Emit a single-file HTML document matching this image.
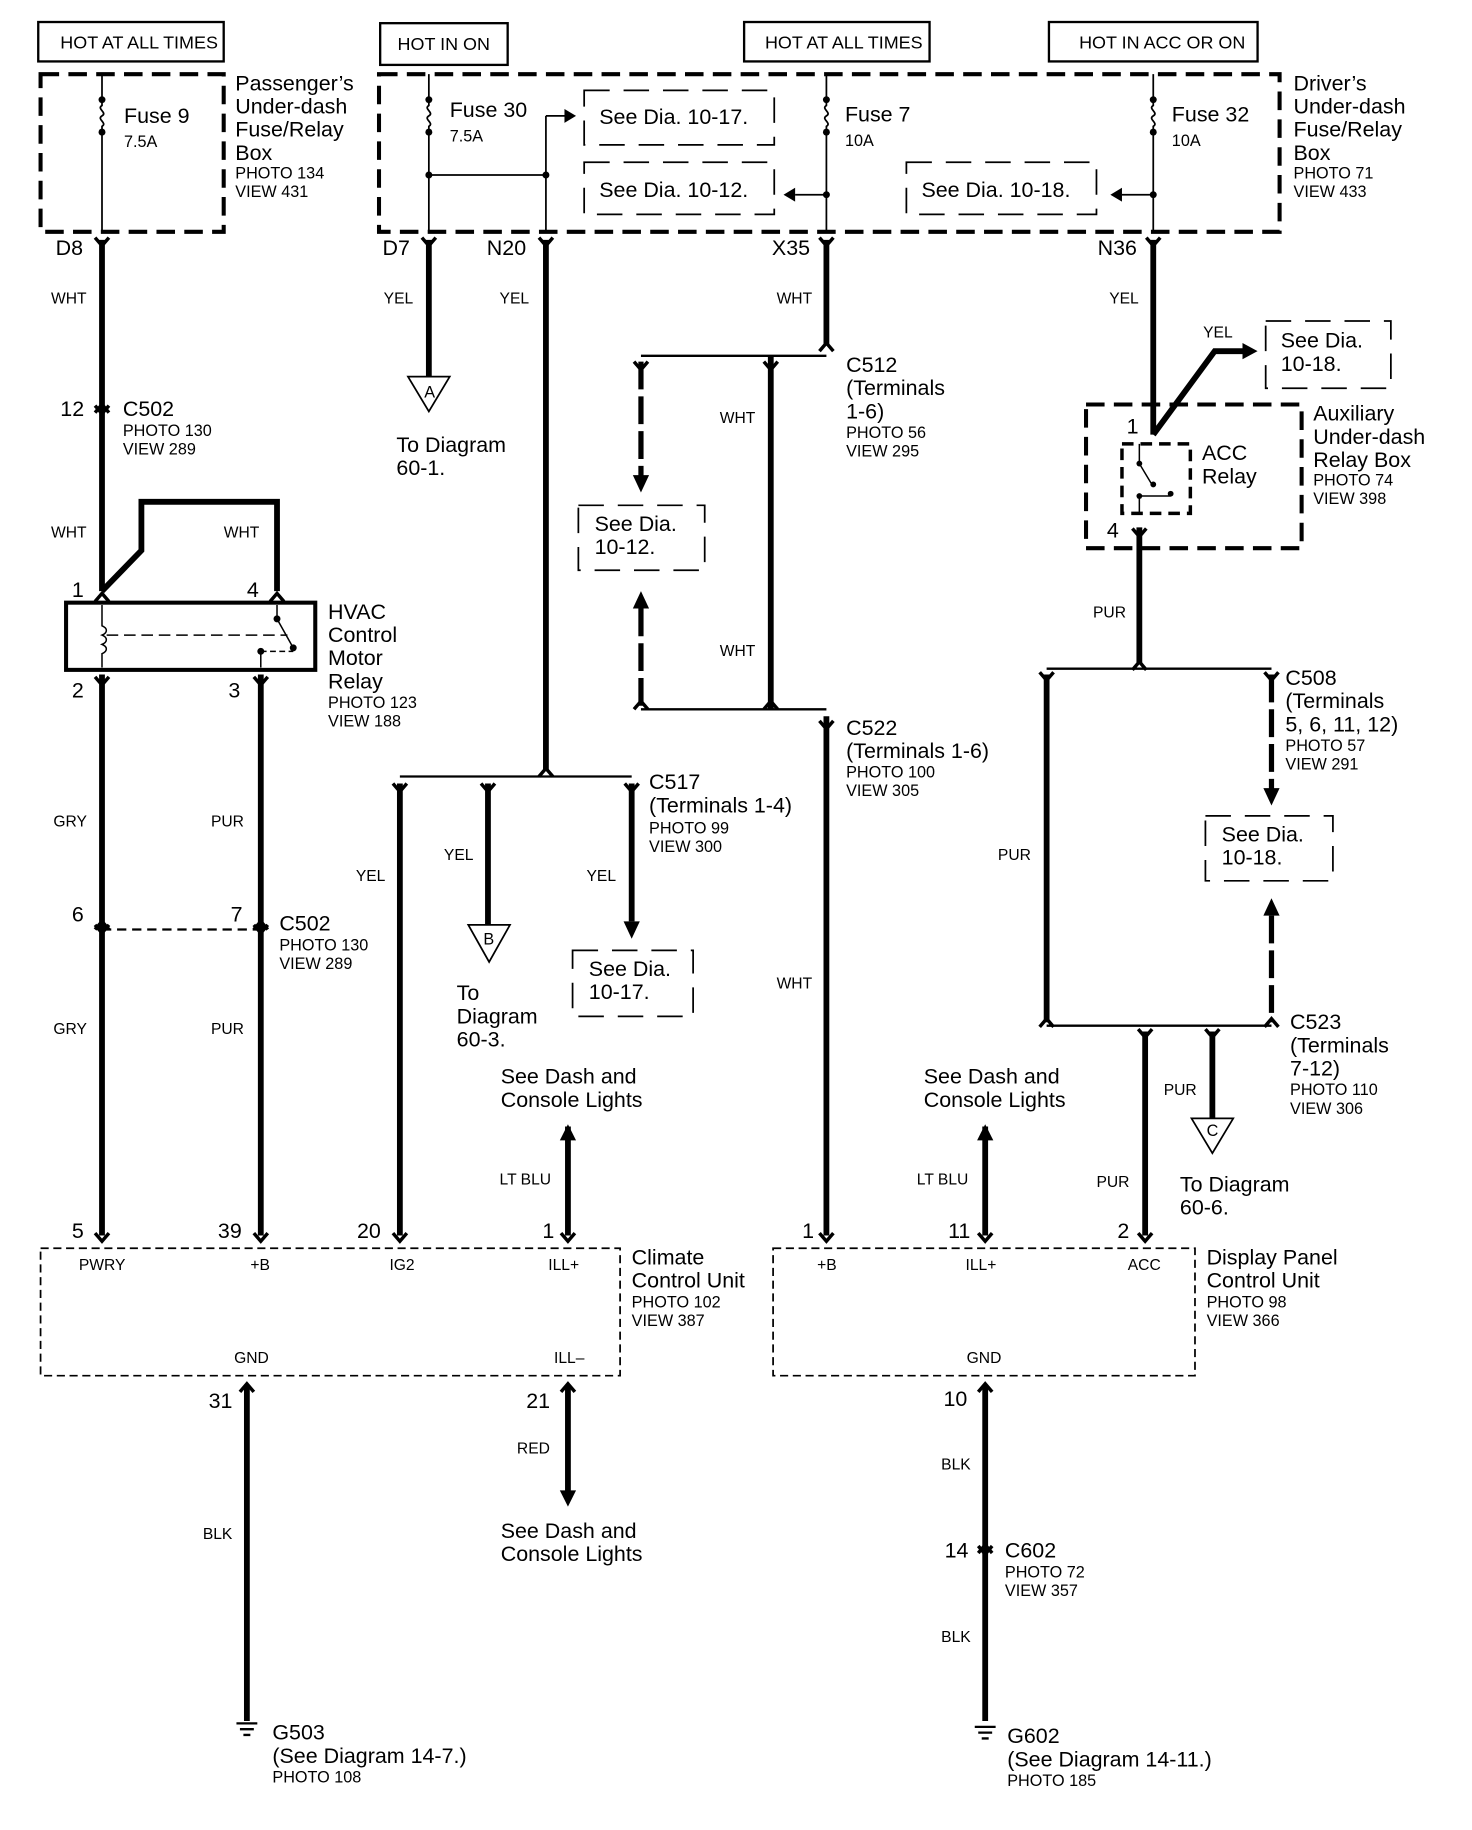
<!DOCTYPE html>
<html><head><meta charset="utf-8"><style>
html,body{margin:0;padding:0;background:#fff;}
svg{display:block;}
text{font-family:"Liberation Sans",Arial,sans-serif;fill:#000;}
.b{font-size:18.5px;}
.s{font-size:14px;}
.w{font-size:13.5px;}
.t{font-size:15.5px;}
</style></head><body>
<svg width="1472" height="1830" viewBox="0 0 1270 1579" preserveAspectRatio="none" xmlns="http://www.w3.org/2000/svg">
<defs>
<path id="fk" d="M-6,-6 L0,1 L6,-6" fill="none" stroke="#000" stroke-width="3"/>
<path id="up" d="M-6,6 L0,-1 L6,6" fill="none" stroke="#000" stroke-width="3"/>
<path id="fuse" d="M0,0 v6 c-5,3 5,6 0,9 c-5,3 5,6 0,9 v6" fill="none" stroke="#000" stroke-width="1.5"/>
</defs>
<rect width="1270" height="1579" fill="#fff"/>
<g fill="none" stroke="#000" stroke-width="2">
<rect x="33" y="19" width="160" height="34"/>
<rect x="328" y="20" width="110" height="36"/>
<rect x="642" y="19" width="160" height="34"/>
<rect x="905" y="19" width="180" height="34"/>
</g>
<g class="t">
<text x="52" y="42">HOT AT ALL TIMES</text>
<text x="343" y="43">HOT IN ON</text>
<text x="660" y="42">HOT AT ALL TIMES</text>
<text x="931" y="42">HOT IN ACC OR ON</text>
</g>
<g fill="none" stroke="#000" stroke-width="3.5" stroke-dasharray="16,8">
<rect x="35" y="64" width="158" height="136"/>
<rect x="327" y="64" width="777" height="136"/>
<rect x="937" y="349" width="186" height="124"/>
<rect x="968" y="383" width="59" height="60" stroke-width="3" stroke-dasharray="10,6"/>
</g>
<g fill="none" stroke="#000" stroke-width="1.5" stroke-dasharray="22,12">
<rect x="504" y="78" width="164" height="47"/>
<rect x="504" y="140" width="164" height="45"/>
<rect x="782" y="140" width="164" height="45"/>
<rect x="1092" y="277" width="108" height="58"/>
<rect x="499" y="436" width="109" height="56"/>
<rect x="494" y="820" width="104" height="57"/>
<rect x="1040" y="704" width="110" height="56"/>
<rect x="35" y="1077" width="500" height="110" stroke-dasharray="7,4"/>
<rect x="667" y="1077" width="364" height="110" stroke-dasharray="7,4"/>
</g>
<g fill="none" stroke="#000" stroke-width="1.5">
<path d="M88,64 V85 M88,115 V200"/>
<path d="M370,64 V85 M370,115 V200"/>
<path d="M370,151 H471 M471,100 V200 M471,100 H488"/>
<path d="M713,64 V85 M713,115 V200 M713,168 H686"/>
<path d="M995,64 V85 M995,115 V200 M995,168 H968"/>
</g>
<use href="#fuse" x="88" y="85"/><use href="#fuse" x="370" y="85"/><use href="#fuse" x="713" y="85"/><use href="#fuse" x="995" y="85"/>
<g fill="#000">
<circle cx="88" cy="86" r="3"/><circle cx="88" cy="114" r="3"/>
<circle cx="370" cy="86" r="3"/><circle cx="370" cy="114" r="3"/>
<circle cx="713" cy="86" r="3"/><circle cx="713" cy="114" r="3"/>
<circle cx="995" cy="86" r="3"/><circle cx="995" cy="114" r="3"/>
<circle cx="370" cy="151" r="3"/><circle cx="471" cy="151" r="3"/>
<circle cx="713" cy="168" r="3"/><circle cx="995" cy="168" r="3"/>
<path d="M487,94 L497,100 L487,106Z"/>
<path d="M686,162 L676,168 L686,174Z"/>
<path d="M968,162 L958,168 L968,174Z"/>
</g>
<g class="b">
<text x="107" y="106">Fuse 9</text>
<text x="388" y="101">Fuse 30</text>
<text x="729" y="105">Fuse 7</text>
<text x="1011" y="105">Fuse 32</text>
<text x="517" y="107">See Dia. 10-17.</text>
<text x="517" y="170">See Dia. 10-12.</text>
<text x="795" y="170">See Dia. 10-18.</text>
</g>
<g class="s">
<text x="107" y="127">7.5A</text><text x="388" y="122">7.5A</text>
<text x="729" y="126">10A</text><text x="1011" y="126">10A</text>
</g>
<g class="b">
<text x="203" y="78">Passenger’s</text><text x="203" y="98">Under-dash</text><text x="203" y="118">Fuse/Relay</text><text x="203" y="138">Box</text>
<text x="1116" y="78">Driver’s</text><text x="1116" y="98">Under-dash</text><text x="1116" y="118">Fuse/Relay</text><text x="1116" y="138">Box</text>
</g>
<g class="s">
<text x="203" y="154">PHOTO 134</text><text x="203" y="170">VIEW 431</text>
<text x="1116" y="154">PHOTO 71</text><text x="1116" y="170">VIEW 433</text>
</g>
<g class="b">
<text x="48" y="220">D8</text><text x="330" y="220">D7</text><text x="420" y="220">N20</text><text x="666" y="220">X35</text><text x="947" y="220">N36</text>
</g>
<g fill="none" stroke="#000" stroke-width="5">
<path d="M88,207 V510"/>
<path d="M88,510 L122,475 V433 H239 V510"/>
<path d="M88,582 V1066 M225,582 V1066"/>
<path d="M370,207 V325"/>
<path d="M471,207 V664"/>
<path d="M713,207 V298"/>
<path d="M995,207 V375 M995,375 L1048,303 H1072"/>
<path d="M665,307 V612 M713,618 V1066"/>
<path d="M345,676 V1066 M421,676 V798 M545,676 V795"/>
<path d="M983,455 V572"/>
<path d="M903,582 V882 M988,890 V1066 M1046,890 V965"/>
<path d="M490,972 V1066 M850,972 V1066"/>
<path d="M213,1195 V1485 M490,1195 V1290 M850,1195 V1485"/>
</g>
<g fill="none" stroke="#000" stroke-width="4.5" stroke-dasharray="24,6">
<path d="M553,312 V412 M553,525 V610"/>
<path d="M1097,582 V682 M1097,790 V882"/>
</g>
<g fill="none" stroke="#000" stroke-width="2">
<path d="M553,307 H713 M553,612 H713 M345,670 H545 M903,577 H1097 M903,885 H1097"/>
<path d="M88,802 H225" stroke-dasharray="8,5"/>
</g>
<g fill="#000">
<path d="M1072,296 L1085,303 L1072,310Z"/>
<path d="M546,410 L553,425 L560,410Z"/>
<path d="M546,525 L553,510 L560,525Z"/>
<path d="M538,795 L545,810 L552,795Z"/>
<path d="M1090,680 L1097,695 L1104,680Z"/>
<path d="M1090,790 L1097,775 L1104,790Z"/>
<path d="M483,1286 L490,1300 L497,1286Z"/>
<path d="M483,984 L490,970 L497,984Z"/>
<path d="M843,984 L850,970 L857,984Z"/>
</g>
<use href="#fk" x="88" y="211"/><use href="#fk" x="370" y="211"/><use href="#fk" x="471" y="211"/><use href="#fk" x="713" y="211"/><use href="#fk" x="995" y="211"/>
<use href="#fk" x="88" y="356"/><use href="#up" x="88" y="350"/>
<use href="#up" x="88" y="513"/><use href="#up" x="239" y="513"/>
<use href="#fk" x="88" y="590"/><use href="#fk" x="225" y="590"/>
<use href="#up" x="88" y="796"/><use href="#fk" x="88" y="804"/><use href="#up" x="225" y="796"/><use href="#fk" x="225" y="804"/>
<use href="#up" x="471" y="664"/><use href="#fk" x="345" y="682"/><use href="#fk" x="421" y="682"/><use href="#fk" x="545" y="682"/>
<use href="#up" x="713" y="297"/><use href="#fk" x="553" y="318"/><use href="#fk" x="665" y="318"/>
<use href="#up" x="553" y="606"/><use href="#up" x="665" y="606"/><use href="#fk" x="713" y="628"/>
<use href="#fk" x="983" y="462"/><use href="#up" x="983" y="572"/><use href="#fk" x="903" y="586"/><use href="#fk" x="1097" y="586"/>
<use href="#up" x="903" y="880"/><use href="#up" x="1097" y="880"/><use href="#fk" x="988" y="894"/><use href="#fk" x="1046" y="894"/>
<use href="#fk" x="88" y="1070"/><use href="#fk" x="225" y="1070"/><use href="#fk" x="345" y="1070"/><use href="#fk" x="490" y="1070"/>
<use href="#fk" x="713" y="1070"/><use href="#fk" x="850" y="1070"/><use href="#fk" x="988" y="1070"/>
<use href="#up" x="213" y="1195"/><use href="#up" x="490" y="1195"/><use href="#up" x="850" y="1195"/>
<use href="#fk" x="850" y="1340"/><use href="#up" x="850" y="1334"/>
<rect x="57" y="520" width="215" height="58" fill="none" stroke="#000" stroke-width="3.5"/>
<g fill="none" stroke="#000" stroke-width="1.3">
<path d="M88,522 V540 c5,2 5,6 0,8 c5,2 5,6 0,8 c5,2 5,6 0,8 V576"/>
<path d="M92,548 H248" stroke-dasharray="10,5"/>
<path d="M239,522 V534 L253,559 M225,576 V562" />
<path d="M225,562 H253" stroke-dasharray="5,3"/>
</g>
<g fill="#000"><circle cx="239" cy="534" r="3"/><circle cx="253" cy="559" r="3"/><circle cx="225" cy="562" r="3"/></g>
<g fill="none" stroke="#000" stroke-width="1.3">
<path d="M983,383 V400 L995,420 M983,443 V428 H1010" />
</g>
<g fill="#000"><circle cx="983" cy="400" r="2.5"/><circle cx="995" cy="418" r="2.5"/><circle cx="983" cy="428" r="2.5"/><circle cx="1010" cy="426" r="2.5"/></g>
<g fill="#fff" stroke="#000" stroke-width="1.5">
<path d="M352,325 H388 L370,355Z"/>
<path d="M404,798 H440 L422,830Z"/>
<path d="M1028,965 H1064 L1046,995Z"/>
</g>
<g class="s"><text x="366" y="343">A</text><text x="417" y="815">B</text><text x="1041" y="980">C</text></g>
<g stroke="#000" stroke-width="2"><path d="M204,1487 H222 M207,1492 H219 M210,1497 H216"/><path d="M841,1490 H859 M844,1495 H856 M847,1500 H853"/></g>
<g class="w">
<text x="44" y="262">WHT</text><text x="331" y="262">YEL</text><text x="431" y="262">YEL</text><text x="670" y="262">WHT</text><text x="957" y="262">YEL</text>
<text x="1038" y="291">YEL</text>
<text x="44" y="464">WHT</text><text x="193" y="464">WHT</text>
<text x="621" y="365">WHT</text><text x="621" y="566">WHT</text>
<text x="943" y="533">PUR</text>
<text x="46" y="713">GRY</text><text x="182" y="713">PUR</text>
<text x="861" y="742">PUR</text>
<text x="307" y="760">YEL</text><text x="383" y="742">YEL</text><text x="506" y="760">YEL</text>
<text x="670" y="853">WHT</text>
<text x="46" y="892">GRY</text><text x="182" y="892">PUR</text>
<text x="1004" y="945">PUR</text>
<text x="431" y="1022">LT BLU</text><text x="791" y="1022">LT BLU</text><text x="946" y="1024">PUR</text>
<text x="68" y="1096">PWRY</text><text x="216" y="1096">+B</text><text x="336" y="1096">IG2</text><text x="473" y="1096">ILL+</text>
<text x="705" y="1096">+B</text><text x="833" y="1096">ILL+</text><text x="973" y="1096">ACC</text>
<text x="202" y="1176">GND</text><text x="478" y="1176">ILL–</text><text x="834" y="1176">GND</text>
<text x="175" y="1328">BLK</text><text x="446" y="1254">RED</text><text x="812" y="1268">BLK</text><text x="812" y="1417">BLK</text>
</g>
<g class="b">
<text x="52" y="359">12</text><text x="106" y="359">C502</text>
<text x="62" y="515">1</text><text x="213" y="515">4</text><text x="62" y="602">2</text><text x="197" y="602">3</text>
<text x="283" y="534">HVAC</text><text x="283" y="554">Control</text><text x="283" y="574">Motor</text><text x="283" y="594">Relay</text>
<text x="342" y="390">To Diagram</text><text x="342" y="410">60-1.</text>
<text x="730" y="321">C512</text><text x="730" y="341">(Terminals</text><text x="730" y="361">1-6)</text>
<text x="1105" y="300">See Dia.</text><text x="1105" y="320">10-18.</text>
<text x="972" y="374">1</text><text x="955" y="464">4</text>
<text x="1037" y="397">ACC</text><text x="1037" y="417">Relay</text>
<text x="1133" y="363">Auxiliary</text><text x="1133" y="383">Under-dash</text><text x="1133" y="403">Relay Box</text>
<text x="513" y="458">See Dia.</text><text x="513" y="478">10-12.</text>
<text x="1109" y="591">C508</text><text x="1109" y="611">(Terminals</text><text x="1109" y="631">5, 6, 11, 12)</text>
<text x="730" y="634">C522</text><text x="730" y="654">(Terminals 1-6)</text>
<text x="560" y="681">C517</text><text x="560" y="701">(Terminals 1-4)</text>
<text x="1054" y="726">See Dia.</text><text x="1054" y="746">10-18.</text>
<text x="62" y="795">6</text><text x="199" y="795">7</text><text x="241" y="803">C502</text>
<text x="508" y="842">See Dia.</text><text x="508" y="862">10-17.</text>
<text x="394" y="863">To</text><text x="394" y="883">Diagram</text><text x="394" y="903">60-3.</text>
<text x="1113" y="888">C523</text><text x="1113" y="908">(Terminals</text><text x="1113" y="928">7-12)</text>
<text x="432" y="935">See Dash and</text><text x="432" y="955">Console Lights</text>
<text x="797" y="935">See Dash and</text><text x="797" y="955">Console Lights</text>
<text x="1018" y="1028">To Diagram</text><text x="1018" y="1048">60-6.</text>
<text x="62" y="1068">5</text><text x="188" y="1068">39</text><text x="308" y="1068">20</text><text x="468" y="1068">1</text>
<text x="692" y="1068">1</text><text x="818" y="1068">11</text><text x="964" y="1068">2</text>
<text x="545" y="1091">Climate</text><text x="545" y="1111">Control Unit</text>
<text x="1041" y="1091">Display Panel</text><text x="1041" y="1111">Control Unit</text>
<text x="180" y="1215">31</text><text x="454" y="1215">21</text><text x="814" y="1213">10</text>
<text x="432" y="1327">See Dash and</text><text x="432" y="1347">Console Lights</text>
<text x="815" y="1344">14</text><text x="867" y="1344">C602</text>
<text x="235" y="1501">G503</text><text x="235" y="1521">(See Diagram 14-7.)</text>
<text x="869" y="1504">G602</text><text x="869" y="1524">(See Diagram 14-11.)</text>
</g>
<g class="s">
<text x="106" y="376">PHOTO 130</text><text x="106" y="392">VIEW 289</text>
<text x="283" y="611">PHOTO 123</text><text x="283" y="627">VIEW 188</text>
<text x="730" y="378">PHOTO 56</text><text x="730" y="394">VIEW 295</text>
<text x="1133" y="419">PHOTO 74</text><text x="1133" y="435">VIEW 398</text>
<text x="1109" y="648">PHOTO 57</text><text x="1109" y="664">VIEW 291</text>
<text x="730" y="671">PHOTO 100</text><text x="730" y="687">VIEW 305</text>
<text x="560" y="719">PHOTO 99</text><text x="560" y="735">VIEW 300</text>
<text x="241" y="820">PHOTO 130</text><text x="241" y="836">VIEW 289</text>
<text x="1113" y="945">PHOTO 110</text><text x="1113" y="961">VIEW 306</text>
<text x="545" y="1128">PHOTO 102</text><text x="545" y="1144">VIEW 387</text>
<text x="1041" y="1128">PHOTO 98</text><text x="1041" y="1144">VIEW 366</text>
<text x="867" y="1361">PHOTO 72</text><text x="867" y="1377">VIEW 357</text>
<text x="235" y="1538">PHOTO 108</text>
<text x="869" y="1541">PHOTO 185</text>
</g>
</svg>
</body></html>
